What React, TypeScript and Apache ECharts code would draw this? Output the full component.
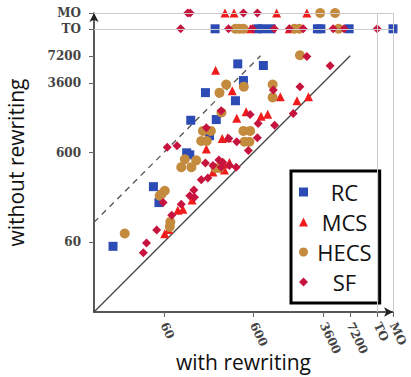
import React, { useEffect, useRef } from 'react';
import * as echarts from 'echarts';

// Special positions for timeouts / memory-outs on the log axes
const TO = 14400;
const MO = 21600;
const AXIS_MIN = 10;

const TICK_VALUES = [60, 600, 3600, 7200, TO, MO];
const TICK_LABELS = ['60', '600', '3600', '7200', 'TO', 'MO'];

const SERIES_NAMES = ['RC', 'MCS', 'HECS', 'SF'];

// [with rewriting, without rewriting] in seconds
const RC: number[][] = [
  [401, 5850], [774, 5610], [464, 3810], [175, 2795], [378, 2270], [231, 1400], [120, 1375],
  [194, 925], [108, 596], [117, 566], [46, 250], [53, 166], [16.3, 54],
  [224, TO], [670, TO], [760, TO], [942, TO], [3100, TO], [3390, TO], [7000, TO], [MO, TO],
];

const MCS: number[][] = [
  [227, 4970], [348, 2940], [1196, 2520], [1835, 2270], [2465, 2520], [391, 1448], [497, 1710],
  [730, 1525], [865, 1605], [269, 863], [308, 879], [179, 656], [283, 448], [324, 464],
  [212, 365], [285, 384], [124, 177], [86, 136], [98, 140], [61.5, 74.6], [68, 83],
  [289, MO], [364, MO], [1088, MO], [2365, MO],
  [555, TO], [1505, TO],
];

const HECS: number[][] = [
  [1980, 7300], [468, 3260], [298, 3435], [251, 2795], [982, 3435], [982, 2473], [264, 1678],
  [164, 1045], [201, 1045], [157, 807], [181, 807], [464, 1045], [551, 1045], [476, 792],
  [541, 792], [103, 504], [138, 491], [94, 412], [122, 412], [227, 404], [251, 404],
  [61.5, 225], [56.5, 206], [54, 198], [71, 101], [70, 89], [22, 75],
  [378, TO], [419, TO], [464, TO], [1711, TO], [1945, TO], [5340, TO],
  [3330, MO], [4880, MO],
];

const SF: number[][] = [
  [2365, 7090], [4300, 5560], [1000, 2990], [1980, 3260], [1668, 1634], [551, 1593], [677, 1262],
  [1033, 1208], [179, 1138], [319, 863], [664, 879], [391, 792], [527, 632], [65.6, 687],
  [84.3, 714], [175, 460], [247, 497], [273, 469], [385, 412], [212, 429], [262, 412],
  [324, 429], [157, 299], [186, 312], [130, 229], [117, 198], [132, 190], [94, 159],
  [73.6, 120], [50, 82], [59, 166], [38.5, 59], [35.5, 45.7], [262, 1753],
  [111, MO], [118, MO], [464, MO], [664, MO],
  [92.7, TO], [316, TO], [585, TO], [1026, TO], [1505, TO], [2154, TO], [4640, TO], [6150, TO], [TO, TO],
];

const DIAG = [[AXIS_MIN, AXIS_MIN], [7200, 7200]];
const DIAG10 = [[AXIS_MIN, AXIS_MIN * 10], [720, 7200]];

const labelFor = (v: number) => {
  const i = TICK_VALUES.findIndex((t) => Math.abs(t - v) / t < 1e-6);
  return i >= 0 ? TICK_LABELS[i] : '';
};

export default function App() {
  const ref = useRef<HTMLDivElement>(null);
  useEffect(() => {
    if (!ref.current) return;
    const chart = echarts.init(ref.current, undefined, { renderer: 'svg' });
    const axisLabelStyle = {
      fontFamily: 'DejaVu Serif',
      fontSize: 12,
      fontWeight: 'bold' as const,
      color: '#444',
      formatter: (v: number) => labelFor(v),
      customValues: TICK_VALUES,
    };
    const axisCommon = {
      type: 'log' as const,
      logBase: 10,
      min: AXIS_MIN,
      max: MO,
      splitLine: { show: false },
      minorTick: { show: false },
      axisLine: {
        show: true,
        symbol: ['none', 'arrow'],
        symbolSize: [7, 9],
        lineStyle: { color: '#222', width: 1.5 },
      },
      axisTick: { show: true, length: 5, lineStyle: { color: '#666' }, customValues: TICK_VALUES },
      nameTextStyle: { fontFamily: 'Open Sans', fontSize: 21, color: '#111' },
      nameLocation: 'middle' as const,
      nameMoveOverlap: false,
    };
    chart.setOption({
      animation: false,
      backgroundColor: '#fff',
      grid: { left: 94, right: 18, top: 13, bottom: 65, containLabel: false, outerBoundsMode: 'none' },
      xAxis: {
        ...axisCommon,
        name: 'with rewriting',
        nameGap: 39,
        axisLabel: { ...axisLabelStyle, rotate: -65, margin: 11 },
      },
      yAxis: {
        ...axisCommon,
        name: 'without rewriting',
        nameGap: 68,
        axisLabel: { ...axisLabelStyle, margin: 13 },
      },
      legend: {
        data: SERIES_NAMES,
        orient: 'vertical',
        left: 291,
        top: 171,
        padding: [10, 8, 10, 8],
        itemGap: 8,
        itemWidth: 9,
        itemHeight: 9,
        borderColor: '#000',
        borderWidth: 3,
        backgroundColor: '#fff',
        formatter: (name: string) => `{c|${name}}`,
        textStyle: {
          fontFamily: 'Open Sans',
          fontSize: 22,
          color: '#111',
          rich: { c: { width: 63, align: 'center', fontFamily: 'Open Sans', fontSize: 22, color: '#111' } },
        },
      },
      series: [
        {
          name: 'diag',
          type: 'line',
          data: DIAG,
          symbol: 'none',
          silent: true,
          z: 1,
          lineStyle: { color: '#444', width: 1.3 },
          markLine: {
            silent: true,
            symbol: 'none',
            label: { show: false },
            lineStyle: { color: '#cccccc', width: 1, type: 'solid' },
            data: [{ xAxis: TO }, { xAxis: MO }, { yAxis: TO }, { yAxis: MO }],
          },
        },
        {
          name: 'diag10',
          type: 'line',
          data: DIAG10,
          symbol: 'none',
          silent: true,
          z: 1,
          lineStyle: { color: '#555', width: 1.3, type: [6, 5] },
        },
        { name: 'RC', type: 'scatter', data: RC, symbol: 'rect', symbolSize: 9, z: 3, itemStyle: { color: '#2d4bb5', opacity: 1 } },
        { name: 'MCS', type: 'scatter', data: MCS, symbol: 'triangle', symbolSize: 9, z: 3, itemStyle: { color: '#f01c1c', opacity: 1 } },
        { name: 'HECS', type: 'scatter', data: HECS, symbol: 'circle', symbolSize: 10, z: 3, itemStyle: { color: '#c48a3e', opacity: 1 } },
        { name: 'SF', type: 'scatter', data: SF, symbol: 'diamond', symbolSize: 9, z: 3, itemStyle: { color: '#c7143f', opacity: 1 } },
      ],
    });
    return () => chart.dispose();
  }, []);
  return <div ref={ref} style={{ width: 411, height: 377, position: 'absolute', left: 0, top: 0 }} />;
}
